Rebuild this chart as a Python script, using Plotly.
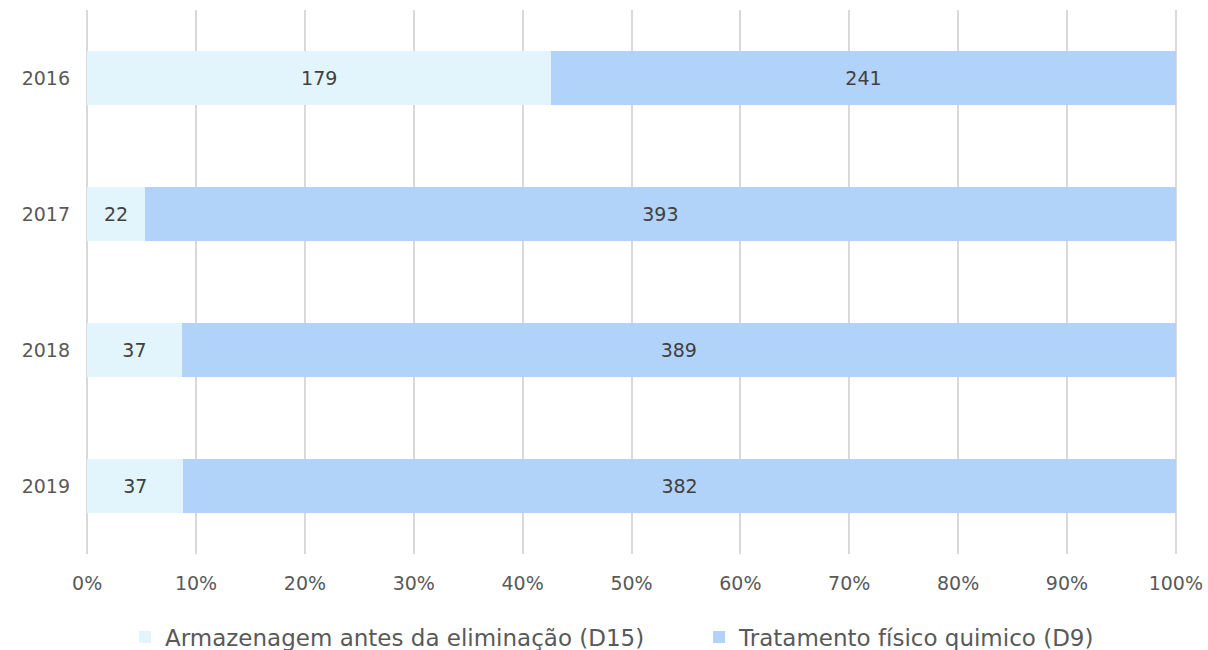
import plotly.graph_objects as go

years = ["2016", "2017", "2018", "2019"]
armazenagem = [179, 22, 37, 37]
tratamento = [241, 393, 389, 382]
series_names = ["Armazenagem antes da eliminação (D15)", "Tratamento físico quimico (D9)"]
colors = ["#E2F5FC", "#B2D3F9"]
tick_vals = [0, 10, 20, 30, 40, 50, 60, 70, 80, 90, 100]
tick_text = [f"{v}%" for v in tick_vals]

FONT = "'DejaVu Sans', sans-serif"
fig = go.Figure()
for i, (name, vals, c) in enumerate(zip(series_names, [armazenagem, tratamento], colors)):
    fig.add_trace(go.Bar(
        y=years, x=vals, name=name, orientation="h",
        marker=dict(color=c, line=dict(width=0)),
        text=[str(v) for v in vals], texttemplate="%{text}",
        textposition="inside", insidetextanchor="middle",
        textfont=dict(color="#404040", size=19, family=FONT),
        hoverinfo="skip", showlegend=True,
        legend="legend" if i == 0 else "legend2",
    ))

legend_common = dict(orientation="h", y=-0.1526, yanchor="middle", xanchor="left",
                     font=dict(size=23, color="#595959", family=FONT),
                     bgcolor="rgba(0,0,0,0)", itemwidth=30, visible=True)

fig.update_layout(
    barmode="stack", barnorm="percent", bargap=0.6,
    width=1208, height=650,
    margin=dict(l=85, r=30, t=10, b=96, autoexpand=False),
    plot_bgcolor="white", paper_bgcolor="white",
    font=dict(family=FONT, color="#595959", size=19),
    uniformtext=dict(mode="show", minsize=19),
    showlegend=True,
    legend=dict(x=0.0366, **legend_common),
    legend2=dict(x=0.5618, **legend_common),
    xaxis=dict(range=[-0.2, 100.2], tickvals=tick_vals, ticktext=tick_text,
               showgrid=True, gridcolor="#D9D9D9", gridwidth=1.5,
               zeroline=False, showline=False, ticks="", ticklabelstandoff=16,
               tickfont=dict(size=19, color="#595959")),
    yaxis=dict(autorange="reversed", showgrid=False, zeroline=False, ticks="",
               ticklabelstandoff=14, tickfont=dict(size=19, color="#595959")),
)
fig.write_html("out.html", config={"displayModeBar": False},
               post_script="document.body.style.margin='0';")
